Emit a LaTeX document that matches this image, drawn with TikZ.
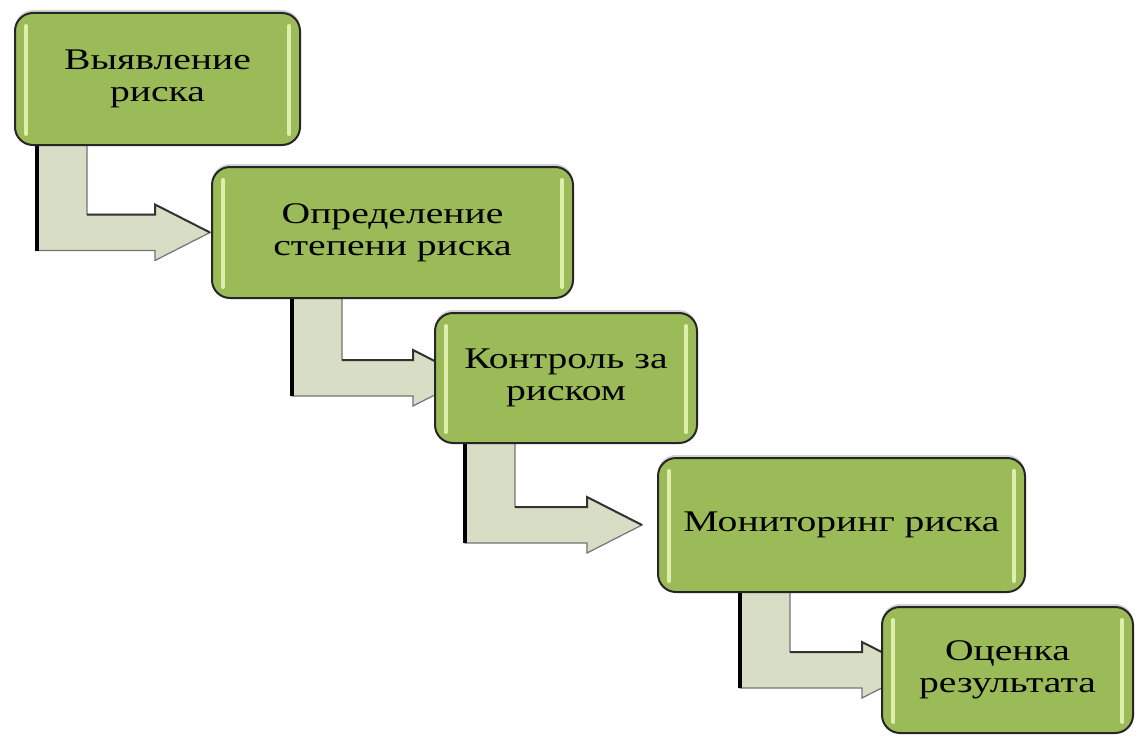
\documentclass[tikz,border=0pt]{standalone}
\usepackage{fontspec}
\setmainfont[FakeStretch=1.32]{Liberation Serif}
\usetikzlibrary{calc,backgrounds,shadows}
\definecolor{boxgreen}{HTML}{9BBB59}
\definecolor{arrowfill}{HTML}{D8DEC6}
\definecolor{hilite}{HTML}{E6F5B4}
\newcommand\bentarrow[4]{% #1 from node, #2 to node, #3 stem left x, #4 head start x
  \coordinate (sl) at (#3,0);
  \coordinate (hs) at (#4,0);
  \draw[arrowbody]
    ($(sl |- #1.south)+(0,-6)$) --
    ($(sl |- #2.west)+(0,18)$) --
    ($(hs |- #2.west)+(0,18)$) --
    ($(hs |- #2.west)+(0,28)$) --
    ($(hs |- #2.west)+(55,0)$) --
    ($(hs |- #2.west)+(0,-28)$) --
    ($(hs |- #2.west)+(0,-18)$) --
    ($(sl |- #2.west)+(50,-18)$) --
    ($(sl |- #1.south)+(50,-6)$) -- cycle;
  \draw[arrowedge] ($(sl |- #1.south)+(0,-6)$) -- ($(sl |- #2.west)+(0,18)$);
  \draw[arrowtop] ($(sl |- #2.west)+(50,-18)$) -- ($(hs |- #2.west)+(0,-18)$)
    -- ($(hs |- #2.west)+(0,-28)$) -- ($(hs |- #2.west)+(55,0)$);
}
\begin{document}
\begin{tikzpicture}[x=0.5pt,y=-0.5pt,
  stagebox/.style={draw=black!85, line width=1pt, fill=boxgreen,
    rounded corners=9pt, align=center, inner sep=0pt,
    font=\fontsize{15}{16}\selectfont,
    drop shadow={shadow xshift=0pt, shadow yshift=1.5pt, opacity=0.35, fill=black!50}},
  arrowbody/.style={fill=arrowfill, draw=black!55, line width=0.6pt, line join=miter},
  arrowedge/.style={draw=black, line width=1.6pt},
  arrowtop/.style={draw=black!80, line width=1pt, line join=miter},
  hl/.style={draw=hilite, line width=2pt, line cap=round, opacity=0.9}]
\useasboundingbox (0,0) rectangle (1138,738);

\node[stagebox, minimum width=142.5pt, minimum height=66pt] (b1) at (157.5,79) {Выявление\\риска};
\node[stagebox, minimum width=180.5pt, minimum height=65.5pt] (b2) at (392.5,232.5) {Определение\\степени риска};
\node[stagebox, minimum width=131pt, minimum height=65pt] (b3) at (566,378) {Контроль за\\риском};
\node[stagebox, minimum width=183.5pt, minimum height=67pt] (b4) at (841.5,525) {Мониторинг риска};
\node[stagebox, minimum width=125.5pt, minimum height=63pt] (b5) at (1007.5,670) {Оценка\\результата};

\foreach \b in {b1,b2,b3,b4,b5}{
  \draw[hl] ($(\b.north west)+(12,14)$) -- ($(\b.south west)+(12,-12)$);
  \draw[hl] ($(\b.north east)+(-12,14)$) -- ($(\b.south east)+(-12,-12)$);
}

\begin{pgfonlayer}{background}
  \fill[white] (0,0) rectangle (1138,738);
  \bentarrow{b1}{b2}{37}{155}
  \bentarrow{b2}{b3}{292}{413}
  \bentarrow{b3}{b4}{465}{587}
  \bentarrow{b4}{b5}{740}{862}
\end{pgfonlayer}
\end{tikzpicture}
\end{document}
